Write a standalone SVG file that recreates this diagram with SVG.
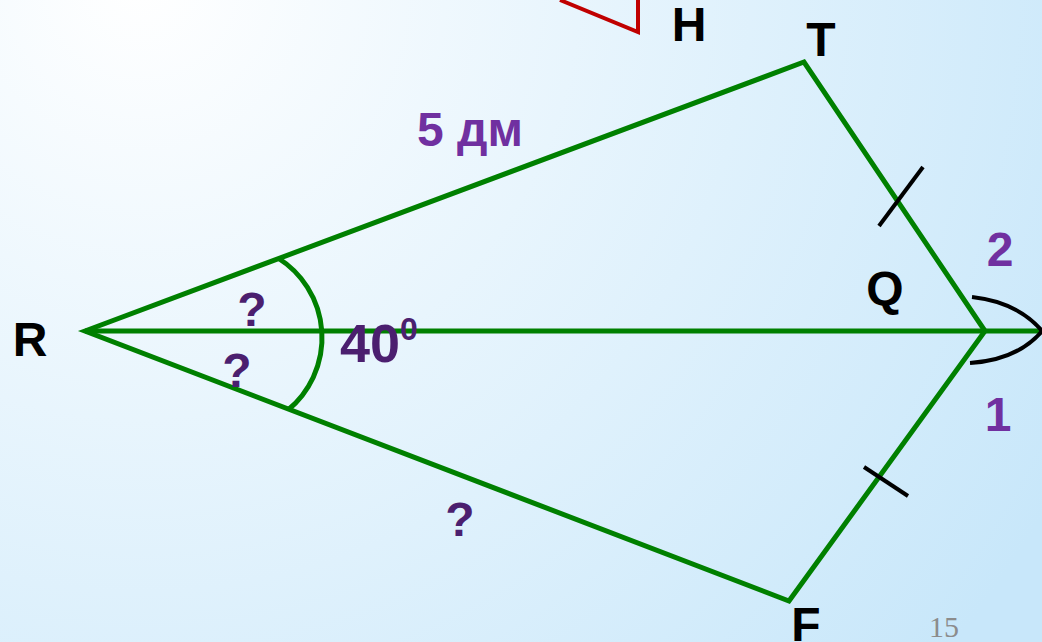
<svg xmlns="http://www.w3.org/2000/svg" width="1042" height="642" viewBox="0 0 1042 642">
  <defs>
    <radialGradient id="bg" gradientUnits="userSpaceOnUse" cx="140" cy="-20" r="1050">
      <stop offset="0" stop-color="#ffffff"/>
      <stop offset="1" stop-color="#c8e7fa"/>
    </radialGradient>
    <style>
      .g { fill: none; stroke: #008000; stroke-width: 5; stroke-linejoin: miter; }
      .k { fill: none; stroke: #000000; stroke-width: 4; }
      .lbl { font-family: "Liberation Sans", Arial, sans-serif; font-weight: bold; font-size: 48px; text-anchor: middle; }
      .big { font-size: 54px; }
      .sup { font-size: 32px; }
      .blk { fill: #000000; }
      .pur { fill: #7030a0; }
      .dpur { fill: #4b1f6f; }
    </style>
  </defs>
  <rect width="1042" height="642" fill="url(#bg)"/>
  <g id="red-shape">
    <polyline points="560,0 638,32 638,0" fill="none" stroke="#c00000" stroke-width="4"/>
  </g>
  <g id="connectors">
    <polygon class="g" points="85,331 804,62 985,331 789,601"/>
    <line class="g" x1="85" y1="331" x2="1042" y2="331"/>
    <path class="g" d="M 278 258 A 94 94 0 0 1 288 410"/>
    <line class="k" x1="879" y1="226" x2="923" y2="167" stroke-width="3.5"/>
    <line class="k" x1="864" y1="467" x2="908" y2="496" stroke-width="3.5"/>
    <path class="k" d="M 972 297 Q 1018 302 1043 332"/>
    <path class="k" d="M 970 363 Q 1018 360 1043 330"/>
  </g>
  <g id="node-H"><text class="lbl blk" x="689" y="41">H</text></g>
  <g id="node-T"><text class="lbl blk" x="821" y="56">T</text></g>
  <g id="node-R"><text class="lbl blk" x="30" y="356">R</text></g>
  <g id="node-Q"><text class="lbl blk" x="885" y="305">Q</text></g>
  <g id="node-F"><text class="lbl blk" x="806" y="641">F</text></g>
  <g id="label-5dm"><text class="lbl pur" x="470" y="146">5 дм</text></g>
  <g id="label-q1"><text class="lbl dpur" x="252" y="326">?</text></g>
  <g id="label-q2"><text class="lbl dpur" x="237" y="387">?</text></g>
  <g id="label-q3"><text class="lbl dpur" x="460" y="536">?</text></g>
  <g id="label-40"><text class="lbl big dpur" x="370" y="362">40</text><text class="lbl sup dpur" x="409" y="340">0</text></g>
  <g id="label-2"><text class="lbl pur" x="1000" y="266">2</text></g>
  <g id="label-1"><text class="lbl pur" x="998" y="431">1</text></g>
  <g id="page-num"><text x="944" y="637" font-family="Liberation Serif, serif" font-size="30" fill="#8c8c8c" text-anchor="middle">15</text></g>
</svg>
